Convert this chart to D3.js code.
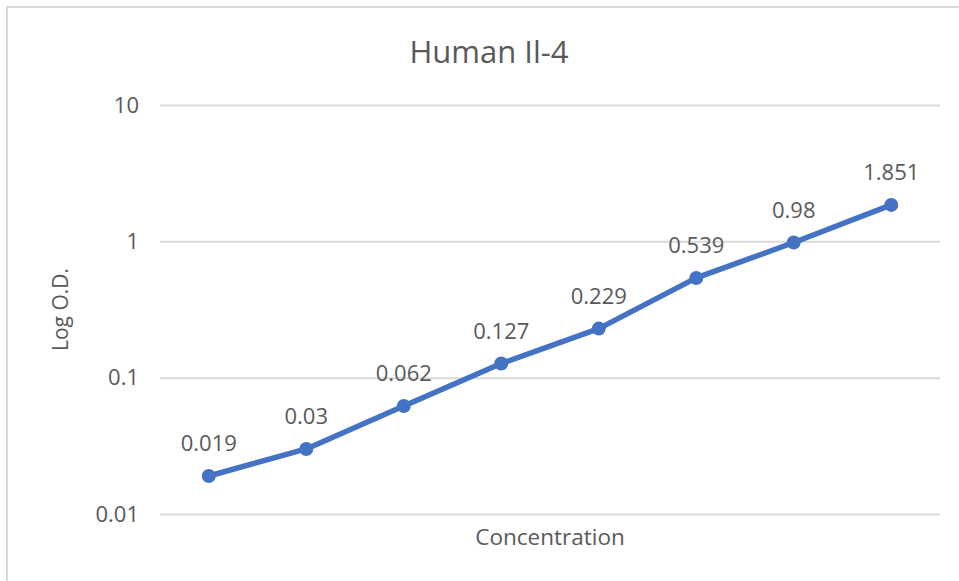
<!DOCTYPE html>
<html>
<head>
<meta charset="utf-8">
<script src="https://cdn.jsdelivr.net/npm/d3@7"></script>
<style>
  body { margin: 0; background: #fff; }
  text { font-family: "Open Sans", sans-serif; fill: #595959; }
</style>
</head>
<body>
<svg id="chart"></svg>
<script>
// values
var categories = ["1", "2", "3", "4", "5", "6", "7", "8"];
var odValues = [0.019, 0.03, 0.062, 0.127, 0.229, 0.539, 0.98, 1.851];
var yTicks = [0.01, 0.1, 1, 10];
var chartTitle = "Human Il-4";
var xTitle = "Concentration";
var yTitle = "Log O.D.";

var W = 959, H = 581;
var margin = {top: 105, right: 19, bottom: 67, left: 160},
    width = W - margin.left - margin.right,
    height = H - margin.top - margin.bottom;

var svg = d3.select("#chart")
    .attr("width", W)
    .attr("height", H);

// chart frame
svg.append("rect")
    .attr("x", 7).attr("y", 7)
    .attr("width", W).attr("height", H)
    .attr("fill", "none")
    .attr("stroke", "#d9d9d9")
    .attr("stroke-width", 2);

svg.append("text")
    .attr("x", 489).attr("y", 63)
    .attr("text-anchor", "middle")
    .style("font-size", "31px")
    .text(chartTitle);

var chart = svg.append("g")
    .attr("transform", "translate(" + margin.left + "," + margin.top + ")");

var x = d3.scalePoint()
    .domain(categories)
    .range([0, width])
    .padding(0.5);

var y = d3.scaleLog()
    .domain([0.01, 10])
    .range([height, 0]);

// gridlines + tick labels
var yAxis = d3.axisLeft(y)
    .tickValues(yTicks)
    .tickSize(-width)
    .tickPadding(21)
    .tickFormat(function(d) { return String(d); });

chart.append("g")
    .attr("class", "y axis")
    .call(yAxis)
    .call(function(g) {
        g.select(".domain").remove();
        g.selectAll("line").attr("stroke", "#d9d9d9").attr("stroke-width", 2);
        g.selectAll("text")
            .style("font-size", "22px")
            .style("font-family", "'Open Sans', sans-serif")
            .attr("fill", "#595959");
    });

var valueLine = d3.line()
    .x(function(d, i) { return x(categories[i]); })
    .y(function(d) { return y(d); });

chart.append("path")
    .datum(odValues)
    .attr("fill", "none")
    .attr("stroke", "#4472c4")
    .attr("stroke-width", 5.5)
    .attr("stroke-linejoin", "round")
    .attr("d", valueLine);

chart.selectAll("circle.dot")
    .data(odValues)
  .enter().append("circle")
    .attr("class", "dot")
    .attr("r", 7)
    .attr("cx", function(d, i) { return x(categories[i]); })
    .attr("cy", function(d) { return y(d); })
    .attr("fill", "#4472c4");

chart.selectAll("text.lbl")
    .data(odValues)
  .enter().append("text")
    .attr("class", "lbl")
    .attr("x", function(d, i) { return x(categories[i]); })
    .attr("y", function(d) { return y(d) - 25; })
    .attr("text-anchor", "middle")
    .style("font-size", "22px")
    .text(function(d) { return String(d); });

// axis titles
svg.append("text")
    .attr("x", margin.left + width / 2).attr("y", 545)
    .attr("text-anchor", "middle")
    .style("font-size", "22.5px")
    .text(xTitle);

svg.append("text")
    .attr("transform", "translate(68," + (margin.top + height / 2) + ") rotate(-90)")
    .attr("text-anchor", "middle")
    .style("font-size", "21px")
    .text(yTitle);
</script>
</body>
</html>
